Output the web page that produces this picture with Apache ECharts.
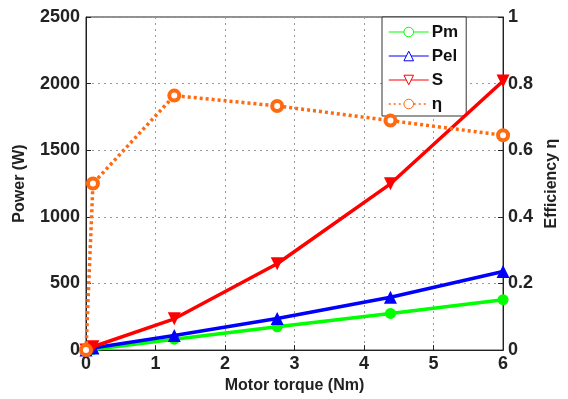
<!DOCTYPE html>
<html>
<head>
<meta charset="utf-8">
<script src="https://cdn.jsdelivr.net/npm/echarts@6/dist/echarts.min.js"></script>
<style>
  html, body { margin: 0; padding: 0; background: #fff; }
  #chart { width: 568px; height: 399px; }
</style>
</head>
<body>
<div id="chart"></div>
<script>
// Motor torque operating points (Nm)
const torque = [0, 0.1, 1.27, 2.75, 4.38, 6];
// Mechanical power Pm (W)
const pm = [0, 5, 82, 175, 275, 378];
// Electrical power Pel (W)
const pel = [0, 15, 110, 237, 397, 590];
// Apparent power S (VA)
const s = [0, 25, 235, 648, 1248, 2020];
// Efficiency η
const eta = [0, 0.5, 0.764, 0.733, 0.689, 0.645];

const xTicks = [0, 1, 2, 3, 4, 5, 6];
const powerTicks = [0, 500, 1000, 1500, 2000, 2500];
const etaTicks = [0, 0.2, 0.4, 0.6, 0.8, 1];

const pairs = (ys) => torque.map((t, i) => [t, ys[i]]);
const font = 'Liberation Sans, Arial, Helvetica, sans-serif';
const axisText = { color: '#222', fontFamily: font, fontWeight: 'bold', fontSize: 18 };
const nameText = { color: '#222', fontFamily: font, fontWeight: 'bold', fontSize: 16 };
const orange = '#ff6a10';

const chart = echarts.init(document.getElementById('chart'), null, { renderer: 'canvas' });
chart.setOption({
  animation: false,
  backgroundColor: '#fff',
  grid: { left: 86, right: 60, top: 17, bottom: 47, show: true, borderColor: '#222', borderWidth: 1, backgroundColor: 'transparent' },
  legend: {
    orient: 'vertical',
    left: 382, top: 17,
    padding: [6, 8, 3, 6],
    itemWidth: 40, itemHeight: 12, itemGap: 6,
    backgroundColor: '#fff',
    borderColor: '#333', borderWidth: 1, borderRadius: 0,
    textStyle: { color: '#111', fontFamily: font, fontWeight: 'bold', fontSize: 17, lineHeight: 18, padding: [0, 0, 0, -2] },
    data: [
      { name: 'Pm', itemStyle: { color: '#fff', borderColor: '#00ff00', borderWidth: 1 }, lineStyle: { width: 1, color: '#00ff00' } },
      { name: 'Pel', itemStyle: { color: '#fff', borderColor: '#0000ff', borderWidth: 1 }, lineStyle: { width: 1, color: '#0000ff' } },
      { name: 'S', itemStyle: { color: '#fff', borderColor: '#ff0000', borderWidth: 1 }, lineStyle: { width: 1, color: '#ff0000' } },
      { name: 'η', itemStyle: { color: '#fff', borderColor: orange, borderWidth: 1 }, lineStyle: { width: 1.5, color: orange, type: [2, 3] } }
    ]
  },
  xAxis: {
    type: 'value', min: 0, max: 6, interval: 1,
    name: 'Motor torque (Nm)', nameLocation: 'middle', nameGap: 24, nameTextStyle: nameText,
    axisLine: { lineStyle: { color: '#222', width: 1 } },
    axisTick: { inside: true, length: 5, lineStyle: { color: '#222' } },
    axisLabel: Object.assign({ margin: 5 }, axisText),
    splitLine: { show: true, lineStyle: { color: '#999', type: [2, 4], width: 1 } }
  },
  yAxis: [
    {
      type: 'value', min: 0, max: 2500, interval: 500, position: 'left',
      name: 'Power (W)', nameLocation: 'middle', nameGap: 58, nameRotate: 90, nameTextStyle: nameText,
      axisLine: { show: true, lineStyle: { color: '#222', width: 1 } },
      axisTick: { show: true, inside: true, length: 5, lineStyle: { color: '#222' } },
      axisLabel: Object.assign({ margin: 6, formatter: (v) => String(v) }, axisText),
      splitLine: { show: true, lineStyle: { color: '#999', type: [2, 4], width: 1 } }
    },
    {
      type: 'value', min: 0, max: 1, interval: 0.2, position: 'right',
      name: 'Efficiency η', nameLocation: 'middle', nameGap: 38, nameRotate: 90, nameTextStyle: nameText,
      axisLine: { show: true, lineStyle: { color: '#222', width: 1 } },
      axisTick: { show: true, inside: true, length: 5, lineStyle: { color: '#222' } },
      axisLabel: Object.assign({ margin: 5, formatter: (v) => (v === 0 || v === 1) ? String(v) : v.toFixed(1) }, axisText),
      splitLine: { show: false }
    }
  ],
  series: [
    {
      name: 'Pm', type: 'line', yAxisIndex: 0, data: pairs(pm), z: 3,
      symbol: 'circle', symbolSize: 11, showAllSymbol: true,
      lineStyle: { color: '#00ff00', width: 3.5 }, itemStyle: { color: '#00ff00' }
    },
    {
      name: 'Pel', type: 'line', yAxisIndex: 0, data: pairs(pel), z: 4,
      symbol: 'triangle', symbolSize: 13, showAllSymbol: true,
      lineStyle: { color: '#0000ff', width: 3.5 }, itemStyle: { color: '#0000ff' }
    },
    {
      name: 'S', type: 'line', yAxisIndex: 0, data: pairs(s), z: 5,
      symbol: 'triangle', symbolRotate: 180, symbolSize: 13, showAllSymbol: true,
      lineStyle: { color: '#ff0000', width: 3.5 }, itemStyle: { color: '#ff0000' }
    },
    {
      name: 'η', type: 'line', yAxisIndex: 1, data: pairs(eta), z: 6,
      symbol: 'circle', symbolSize: 10, showAllSymbol: true,
      lineStyle: { color: orange, width: 3.5, type: [3, 3] },
      itemStyle: { color: '#fff', borderColor: orange, borderWidth: 4 }
    }
  ]
});
</script>
</body>
</html>
